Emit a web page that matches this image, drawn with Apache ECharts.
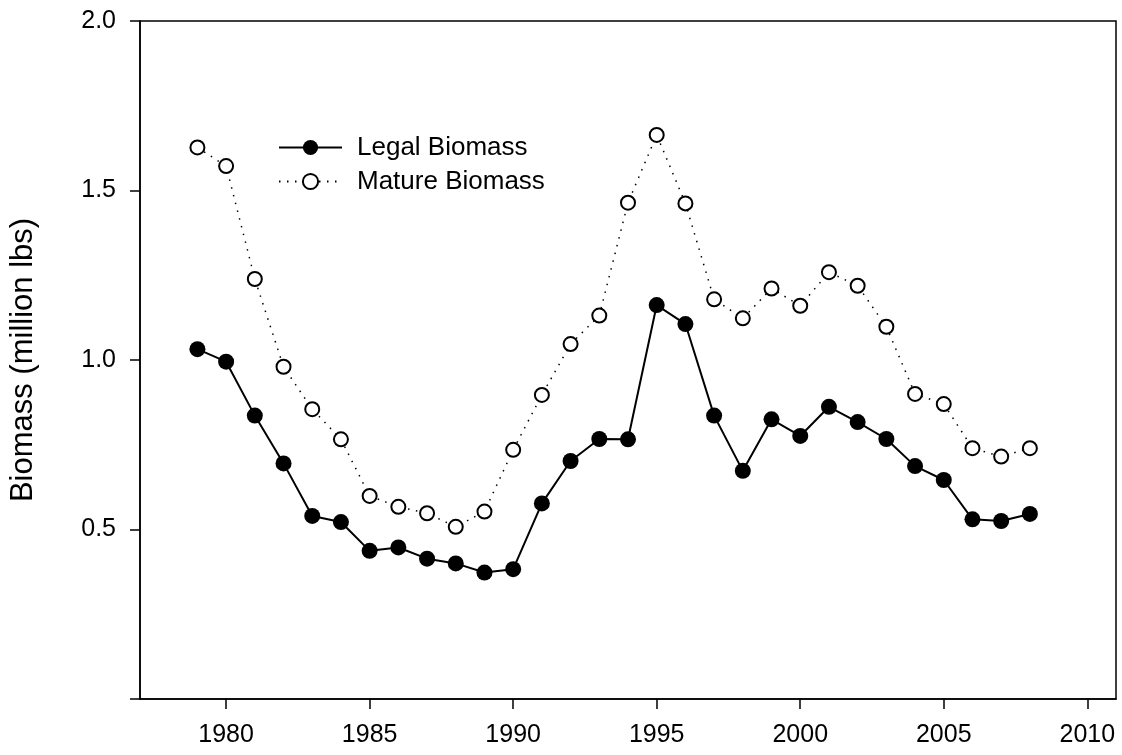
<!DOCTYPE html>
<html>
<head>
<meta charset="utf-8">
<title>Biomass</title>
<script src="https://cdn.jsdelivr.net/npm/echarts@6/dist/echarts.min.js"></script>
<style>
  html, body { margin: 0; padding: 0; background: #fff; }
  #main { width: 1122px; height: 755px; }
</style>
</head>
<body>
<div id="main"></div>
<script>
// data
var years = [1979, 1980, 1981, 1982, 1983, 1984, 1985, 1986, 1987, 1988,
  1989, 1990, 1991, 1992, 1993, 1994, 1995, 1996, 1997, 1998,
  1999, 2000, 2001, 2002, 2003, 2004, 2005, 2006, 2007, 2008];
var legalBiomass = [1.032, 0.995, 0.836, 0.695, 0.540, 0.522, 0.437, 0.447, 0.414, 0.400,
  0.373, 0.383, 0.577, 0.702, 0.767, 0.766, 1.162, 1.106, 0.836, 0.673,
  0.825, 0.776, 0.862, 0.817, 0.767, 0.687, 0.646, 0.530, 0.525, 0.546];
var matureBiomass = [1.627, 1.572, 1.239, 0.980, 0.855, 0.766, 0.599, 0.567, 0.548, 0.508,
  0.553, 0.735, 0.897, 1.047, 1.131, 1.464, 1.664, 1.462, 1.179, 1.123,
  1.211, 1.160, 1.259, 1.219, 1.098, 0.900, 0.870, 0.740, 0.715, 0.740];
var xTicks = [1980, 1985, 1990, 1995, 2000, 2005, 2010];
var yTicks = [0, 0.5, 1.0, 1.5, 2.0];
var yLabels = [0.5, 1.0, 1.5, 2.0];

function pairs(xs, ys) {
  return xs.map(function (x, i) { return [x, ys[i]]; });
}

var font = 'Liberation Sans, Arial, sans-serif';
var myChart = echarts.init(document.getElementById('main'));

var option = {
  animation: false,
  backgroundColor: '#fff',
  grid: {
    left: 129, right: 6, top: 21, bottom: 56,
    show: true,
    borderColor: '#000',
    borderWidth: 1.5
  },
  legend: {
    orient: 'vertical',
    left: 273,
    top: 129,
    itemWidth: 63,
    itemHeight: 19,
    itemGap: 7,
    data: ['Legal Biomass', 'Mature Biomass'],
    textStyle: {
      fontFamily: font,
      fontSize: 26,
      lineHeight: 27,
      color: '#000',
      padding: [0, 0, 0, 10]
    }
  },
  xAxis: {
    type: 'value',
    min: 1977,
    max: 2011,
    splitLine: { show: false },
    axisLine: { show: true, onZero: false, lineStyle: { color: '#000', width: 1.5 } },
    axisTick: {
      show: true, inside: false, length: 10,
      customValues: xTicks,
      lineStyle: { color: '#000', width: 1.5 }
    },
    axisLabel: {
      customValues: xTicks,
      margin: 24,
      fontFamily: font,
      fontSize: 25,
      color: '#000',
      formatter: function (v) { return String(v); }
    }
  },
  yAxis: {
    type: 'value',
    min: 0,
    max: 2,
    name: 'Biomass (million lbs)',
    nameLocation: 'middle',
    nameGap: 101,
    nameTextStyle: { fontFamily: font, fontSize: 31, color: '#000' },
    splitLine: { show: false },
    axisLine: { show: true, lineStyle: { color: '#000', width: 1.5 } },
    axisTick: {
      show: true, inside: false, length: 10,
      customValues: yTicks,
      lineStyle: { color: '#000', width: 1.5 }
    },
    axisLabel: {
      customValues: yLabels,
      margin: 24,
      fontFamily: font,
      fontSize: 25,
      color: '#000',
      formatter: function (v) { return v.toFixed(1); }
    }
  },
  series: [
    {
      name: 'Legal Biomass',
      type: 'line',
      data: pairs(years, legalBiomass),
      symbol: 'circle',
      symbolSize: 16,
      z: 3,
      itemStyle: { color: '#000', borderColor: '#000', borderWidth: 0 },
      lineStyle: { color: '#000', width: 2 }
    },
    {
      name: 'Mature Biomass',
      type: 'line',
      data: pairs(years, matureBiomass),
      symbol: 'circle',
      symbolSize: 14,
      z: 2,
      itemStyle: { color: '#fff', borderColor: '#000', borderWidth: 2 },
      lineStyle: { color: '#000', width: 1.5, type: [1.5, 6.5] }
    }
  ]
};

myChart.setOption(option);

window.addEventListener('resize', function () {
  myChart.resize();
});
</script>
</body>
</html>
